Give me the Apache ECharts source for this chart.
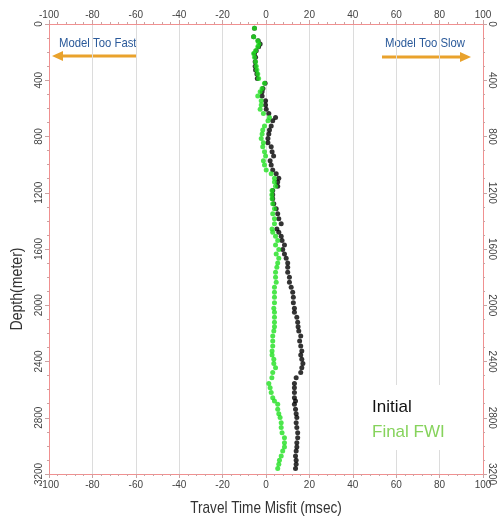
<!DOCTYPE html>
<html><head><meta charset="utf-8">
<script src="https://cdn.jsdelivr.net/npm/echarts@6/dist/echarts.min.js"></script>
<style>html,body{margin:0;padding:0;background:#fff}#c{width:497px;height:518px}</style>
</head><body><div id="c"></div>
<script>
const depths = [30, 90, 119, 142, 161, 190, 209, 237, 268, 300, 327, 356, 387, 422, 458, 482, 512, 546, 576, 607, 636, 664, 688, 726, 754, 783, 814, 845, 873, 909, 939, 973, 1003, 1039, 1065, 1096, 1124, 1153, 1184, 1215, 1243, 1279, 1314, 1350, 1385, 1421, 1457, 1480, 1509, 1540, 1571, 1604, 1635, 1665, 1699, 1729, 1765, 1801, 1836, 1872, 1907, 1943, 1983, 2021, 2050, 2085, 2121, 2152, 2183, 2218, 2254, 2289, 2325, 2353, 2384, 2415, 2444, 2479, 2515, 2557, 2586, 2621, 2657, 2681, 2704, 2740, 2771, 2799, 2835, 2870, 2906, 2942, 2977, 3008, 3037, 3072, 3103, 3131, 3160];
const finalFWI = [-5.3, -5.7, -3.8, -3.3, -3.8, -4.8, -5.7, -5.3, -4.8, -4.5, -4.2, -3.8, -3.4, -0.7, -1.8, -2.7, -3.8, -2.2, -2.2, -2.7, -1.2, 1.6, 0.9, -0.7, -1.5, -1.8, -2.2, -1.2, -1.5, -0.7, -0.2, -1.2, -0.7, 0.1, 2.4, 3.9, 3.9, 4.4, 2.8, 2.7, 2.8, 3.1, 3.9, 3.1, 3.9, 3.9, 2.8, 3.1, 4.4, 5.4, 4.4, 5.9, 4.7, 5.9, 5.4, 5.0, 4.4, 4.4, 4.7, 3.9, 3.9, 3.9, 3.9, 3.6, 3.9, 3.9, 3.9, 3.9, 3.6, 3.1, 3.1, 3.1, 2.8, 2.8, 3.6, 3.6, 4.4, 3.1, 2.7, 1.3, 1.9, 2.4, 3.1, 3.9, 5.4, 5.4, 5.9, 6.5, 7.0, 7.0, 7.4, 8.5, 8.5, 8.5, 7.7, 7.0, 6.2, 5.9, 5.4];
const initial = [-5.3, -5.7, -3.6, -2.7, -3.4, -4.5, -5.3, -4.8, -5.0, -5.0, -4.8, -4.2, -4.0, -0.4, -1.4, -1.8, -1.8, -0.2, -0.2, 0.1, 1.3, 4.4, 3.1, 2.4, 1.6, 1.3, 0.9, 0.9, 2.4, 2.8, 3.5, 1.9, 2.4, 3.1, 4.7, 5.9, 5.4, 5.4, 3.1, 3.1, 3.1, 3.6, 4.7, 5.4, 5.9, 7.0, 5.0, 5.9, 7.0, 7.4, 8.5, 7.7, 8.5, 9.3, 10.0, 10.0, 10.0, 10.8, 10.8, 11.6, 12.3, 12.6, 12.6, 13.1, 13.1, 14.2, 14.6, 14.8, 15.1, 16.0, 15.5, 16.0, 16.5, 16.0, 16.5, 17.0, 16.5, 16.0, 13.9, 13.1, 13.1, 13.1, 13.1, 13.6, 13.1, 13.6, 13.9, 14.2, 13.9, 14.2, 14.6, 14.6, 14.2, 14.2, 13.9, 13.6, 13.9, 13.9, 13.6];
const seriesNames = ['Initial', 'Final FWI'];
const xTitle = 'Travel Time Misfit (msec)';
const yTitle = 'Depth(meter)';

const FONT = '"Liberation Sans", Arial, sans-serif';
const axisLineColor = '#f09090';
const tickColor = '#c9a3a3';
const plainNum = v => String(v);

function xAx(pos, split) {
  return {
    type: 'value', position: pos, min: -100, max: 100, interval: 20,
    axisLine: { show: true, onZero: false, lineStyle: { color: axisLineColor, width: 1 } },
    axisTick: { show: true, length: 4, lineStyle: { color: tickColor } },
    minorTick: { show: true, splitNumber: 5, length: 2, lineStyle: { color: tickColor } },
    axisLabel: { fontSize: 10, color: '#444', fontFamily: FONT, margin: pos === 'top' ? 4 : 6, formatter: plainNum },
    splitLine: { show: split, lineStyle: { color: '#dcdcdc', width: 1 } }
  };
}
function yAx(pos) {
  return {
    type: 'value', position: pos, inverse: true, min: 0, max: 3200, interval: 400,
    axisLine: { show: true, onZero: false, lineStyle: { color: axisLineColor, width: 1 } },
    axisTick: { show: true, length: 4, lineStyle: { color: tickColor } },
    minorTick: { show: true, splitNumber: 4, length: 2, lineStyle: { color: tickColor } },
    axisLabel: { fontSize: 10, color: '#444', fontFamily: FONT, rotate: pos === 'left' ? 90 : -90, margin: pos === 'left' ? 5 : 4, formatter: plainNum },
    splitLine: { show: false }
  };
}

const chart = echarts.init(document.getElementById('c'), null, { renderer: 'canvas' });
chart.setOption({
  animation: false,
  backgroundColor: '#fff',
  grid: { left: 49, right: 13, top: 24, bottom: 44 },
  xAxis: [xAx('bottom', true), xAx('top', false)],
  yAxis: [yAx('left'), yAx('right')],
  legend: {
    orient: 'vertical', left: 357, top: 385,
    icon: 'none', itemWidth: 0, itemHeight: 14, itemGap: 5,
    padding: [12, 8, 8, 10],
    backgroundColor: '#fff',
    selectedMode: false,
    textStyle: { fontSize: 17, fontFamily: FONT, lineHeight: 20 },
    data: [
      { name: seriesNames[0], textStyle: { color: '#111' } },
      { name: seriesNames[1], textStyle: { color: '#86d35c' } }
    ]
  },
  series: [
    { name: seriesNames[0], type: 'scatter', symbolSize: 5, itemStyle: { color: '#000' },
      data: depths.map((d, i) => [initial[i], d]) },
    { name: seriesNames[1], type: 'scatter', symbolSize: 5, itemStyle: { color: '#1fe01f' },
      data: depths.map((d, i) => [finalFWI[i], d]) }
  ],
  graphic: [
    { type: 'text', x: 266, y: 508, scaleX: 0.8, style: { text: xTitle, fontSize: 17, fontFamily: FONT, fill: '#333', align: 'center', verticalAlign: 'middle' } },
    { type: 'text', x: 17, y: 289, rotation: Math.PI / 2, scaleX: 0.83, style: { text: yTitle, fontSize: 17, fontFamily: FONT, fill: '#333', align: 'center', verticalAlign: 'middle' } },
    { type: 'text', x: 59, y: 43, scaleX: 0.84, style: { text: 'Model Too Fast', fontSize: 13.5, fontFamily: FONT, fill: '#2b5a9a', verticalAlign: 'middle' } },
    { type: 'text', x: 385, y: 43, scaleX: 0.84, style: { text: 'Model Too Slow', fontSize: 13.5, fontFamily: FONT, fill: '#2b5a9a', verticalAlign: 'middle' } },
    { type: 'line', shape: { x1: 137, y1: 56, x2: 60, y2: 56 }, style: { stroke: '#e9a22c', lineWidth: 3 } },
    { type: 'polygon', shape: { points: [[52, 56], [63, 51], [63, 61]] }, style: { fill: '#e9a22c' } },
    { type: 'line', shape: { x1: 382, y1: 57, x2: 462, y2: 57 }, style: { stroke: '#e9a22c', lineWidth: 3 } },
    { type: 'polygon', shape: { points: [[471, 57], [460, 52], [460, 62]] }, style: { fill: '#e9a22c' } }
  ]
});
</script></body></html>
